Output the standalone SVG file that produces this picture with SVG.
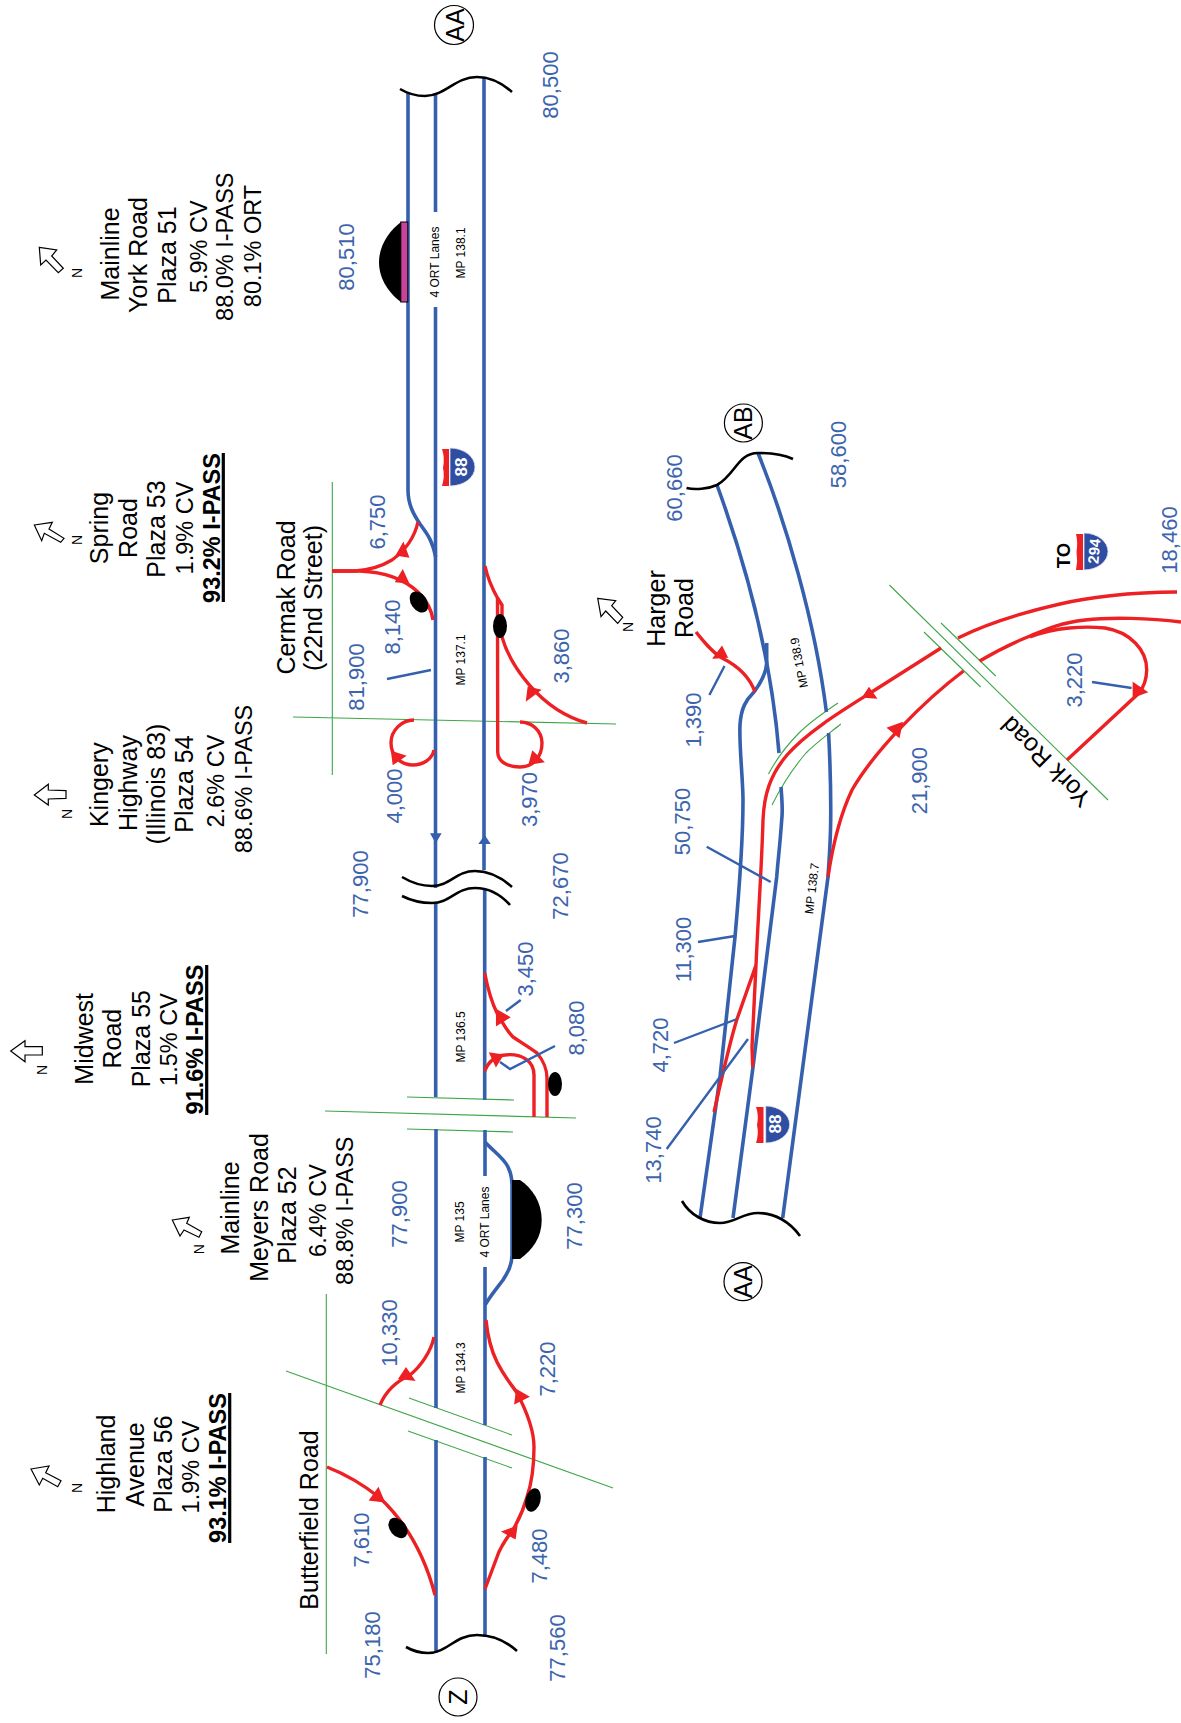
<svg xmlns="http://www.w3.org/2000/svg" width="1181" height="1723" viewBox="0 0 1181 1723">
<style>
text{font-family:"Liberation Sans",Arial,sans-serif;text-anchor:middle}
.n{font-size:22px;fill:#3c64ad}
.k{font-size:25px;fill:#000}
.s{font-size:23.5px;fill:#000}
.b{font-size:23.5px;font-weight:bold;fill:#000}
.to{font-size:18.5px;font-weight:bold;fill:#000}
.m{font-size:12px;fill:#000}
.dir{font-size:14px;fill:#000}
.w{font-weight:bold;fill:#fff}
path,line{fill:none}
.road{stroke:#3560ae;stroke-width:3.6}
.lead{stroke:#3560ae;stroke-width:2.4}
.ramp{stroke:#ed2024;stroke-width:3.4}
.g{stroke:#3fa648;stroke-width:1.1}
.wave{stroke:#000;stroke-width:2.6}
.ul{stroke:#000;stroke-width:3.2}
.arr{fill:#ed2024;stroke:#ed2024;stroke-width:1.5}
.barr{fill:#3560ae;stroke:none}
.north{fill:#fff;stroke:#000;stroke-width:1.2}
.circ{fill:#fff;stroke:#000;stroke-width:1.2}
.blue{fill:#2f4ea2;stroke:#dfe3f3;stroke-width:.8}
.red{fill:#ed2024;stroke:none}
.blk{fill:#000;stroke:none}
</style>

<g id="cross-roads">
<path class="g" d="M332.3,482V775M293,717L616,724M325,1111L576,1118M407,1097L514,1100M407,1129L513,1132M326.3,1294V1654M286,1371L613,1488M409,1398L512,1435M408,1431L512,1468M889.4,585L1108,800M941,623L995.7,676M924,632L980.6,687M838,703C820,715 810,722 799,733C785,747 776,760 768.5,774M840.8,724C830,733 818,741 806,753C794,767 782,785 772,805"/>
</g>

<g id="connectors">
<g id="mainline">
<path class="road" d="M408,93V490C408,505 414,515 420,524C428,535 432,540 435.7,557"/>
<path class="road" d="M435.5,93V212M435.5,307V888M435.7,903V1097M436,1129V1408M436,1440V1653"/>
<path class="road" d="M484,78V870M484.7,890V1100M485,1130V1176M485,1267V1425M485,1457V1637"/>
<path class="road" d="M485,1142C494,1152 504,1158 508,1167C511,1173 512,1178 512,1185V1255C512,1265 508,1272 503,1280C497,1288 491,1295 485,1305"/>
<path class="road" d="M766.7,643V663C766,675 760,684 754,692C746,700 741,708 740,725C739,745 743,780 743,800C743,830 741,870 735,937L720,1077L700,1218"/>
<path class="road" d="M717,485C737,540 770,640 779,753M781,787C782,800 783,810 781.7,820C780,845 778,860 776.7,877L753,1067L733,1218"/>
<path class="road" d="M758,453C785,520 815,620 826.4,712M828.6,733C830,760 831,790 830.7,820C830.5,845 829,860 828,877L782.7,1218"/>
<polygon class="barr" points="430,833.3 441.7,833.3 435.7,843.3"/>
<polygon class="barr" points="478.3,844 490.7,844 484.7,835"/>
</g>
<g id="ramps">
<path class="ramp" d="M418,522C414,540 403,552 392,560C382,566 370,570 355,571L332,571"/>
<path class="ramp" d="M332,571L360,571C385,572 405,580 418,592C428,602 432,612 433,620"/>
<path class="ramp" d="M485,566C488,580 493,590 497.5,598L497.7,752C498,762 508,767 520,767C533,767 542,757 542,743C542,731 532,722 520,722"/>
<path class="ramp" d="M497.5,598L502,605V637C510,665 540,710 587,723"/>
<path class="ramp" d="M434,750C432,760 422,765 413,765C400,765 391,755 391,743C391,730 402,720 414,720"/>
<path class="ramp" d="M484.7,973C488,990 492,1003 497,1013C503,1024 508,1032 513,1037C522,1043 530,1048 537,1053C543,1060 547,1070 547,1078V1117"/>
<path class="ramp" d="M484.7,1071C488,1063 494,1056 505,1055C520,1053 534,1060 534,1075V1117"/>
<path class="ramp" d="M434,1337C431,1352 420,1367 410,1375C395,1382 385,1393 380,1405"/>
<path class="ramp" d="M327,1467C345,1474 365,1486 380,1498C398,1515 422,1545 435,1595"/>
<path class="ramp" d="M486,1320C488,1340 492,1352 497,1362C505,1378 512,1385 517,1393C527,1412 534,1430 534,1447C534,1465 531,1485 527,1497C522,1515 517,1522 513,1530C505,1540 500,1548 497,1557L485,1589"/>
<path class="ramp" d="M1177,592C1130,592 1085,598 1060,604C1025,612 990,622 958,638M941,648L867,695C840,712 806,733 787,755C770,775 764,795 763,820C762,860 758,920 756,965L752,1047L752.7,1067M756,965L736.7,1020C729,1045 723,1073 714,1112"/>
<path class="ramp" d="M1181,622C1150,618 1110,617 1085,620C1060,623 1049,628 1030,636C1010,644 995,652 979.6,661M963.5,671C925,700 875,750 852,790C840,815 832,850 828,877"/>
<path class="ramp" d="M1030,637C1055,627 1085,626 1105,628C1130,632 1147,650 1146.7,670C1146.5,680 1143,688 1139,693L1067,760"/>
<path class="ramp" d="M696,632C704,642 712,652 722,658C738,666 750,678 755,692"/>
<polygon class="arr" points="396.7,555 408.3,556.7 403.3,543.3"/>
<polygon class="arr" points="408.3,582.7 402.7,570.7 396,581.7"/>
<polygon class="arr" points="391.7,751.7 405,756 393.3,764"/>
<polygon class="arr" points="529.3,764 543.3,761.7 532.7,751.7"/>
<polygon class="arr" points="526.7,700 528.3,687.3 540,690"/>
<polygon class="arr" points="496.7,1025 509.3,1017.3 496.7,1010"/>
<polygon class="arr" points="490,1053.3 502.7,1055 496,1066"/>
<polygon class="arr" points="399.3,1378.3 414,1380 406,1368.3"/>
<polygon class="arr" points="370,1500 384,1501.7 378.3,1488.3"/>
<polygon class="arr" points="515,1403.3 528.3,1396.7 516.7,1390"/>
<polygon class="arr" points="502.7,1531.7 516.7,1526.7 515,1538.3"/>
<polygon class="arr" points="713.7,658 727,657 721.9,647"/>
<polygon class="arr" points="863,697 876,698 869,688"/>
<polygon class="arr" points="888,728 902,723 899,737"/>
<polygon class="arr" points="1133.4,683 1146.7,692 1133.4,697"/>
</g>
<g id="leaders">
<path class="lead" d="M387,679L431,670M506,1011L520.7,1000M500,1062L510,1069L555,1046M724.5,666L709.4,695M1092,682L1131.6,688M706.7,846.7L770.7,882M698,942L735,936M674,1043L737,1019M666.7,1149L748,1039"/>
</g>
<g id="breaks">
<path class="wave" d="M400,89C410,95 418,96 425,96C445,96 455,77 477,77C492,77 503,84 512,92"/>
<path class="wave" d="M402,877C412,883 422,886 432,886C450,886 456,871 475,871C490,871 502,878 512,887"/>
<path class="wave" d="M402,896C412,901 422,903 432,903C450,903 456,888 475,888C490,888 501,895 510,905"/>
<path class="wave" d="M406,1647C413,1651 421,1653 428,1653C447,1653 455,1635 477,1635C493,1635 507,1642 517,1651"/>
<path class="wave" d="M686.5,488C695,490 708,489 717,485C735,475 738,453 758,453C770,453 782,454 793,459"/>
<path class="wave" d="M682,1201C690,1215 705,1223 720,1223C735,1223 742,1213 758,1213C775,1213 790,1222 800,1236"/>
</g>
</g>

<g id="plaza-51">
<path class="blk" d="M401,222C390,230 379,245 379,262C379,280 390,294 401,302Z"/>
<rect x="400.8" y="222" width="7" height="80" fill="#c8439a" stroke="#000" stroke-width="1"/>
</g>
<g id="plaza-52">
<path class="blk" d="M512,1180H520C532,1188 541.7,1202 541.7,1220C541.7,1238 532,1250 520,1259H512Z"/>
</g>
<g id="ramp-plazas">
<ellipse cx="419" cy="602" rx="8" ry="11.5" transform="rotate(-35 419 602)"/>
<ellipse cx="500" cy="626" rx="7" ry="12"/>
<ellipse cx="555" cy="1084" rx="7" ry="12"/>
<ellipse cx="398" cy="1528" rx="8" ry="11.5" transform="rotate(-40 398 1528)"/>
<ellipse cx="533" cy="1500" rx="7.5" ry="12" transform="rotate(15 533 1500)"/>
</g>

<g id="shield-88-upper">
<path class="blue" d="M450,448A25,19 0 0 1 450,486Z"/>
<path class="red" d="M442,449H449V486H442Q445,476 443,468Q445,458 442,449Z"/>
<text class="w" font-size="17" transform="translate(466.7,467) rotate(-90)">88</text>
</g>
<g id="shield-88-lower">
<path class="blue" d="M765.7,1106A24,18.5 0 0 1 765.7,1143Z"/>
<path class="red" d="M756,1107H763.5V1143H756Q759,1134 757,1125Q759,1115 756,1107Z"/>
<text class="w" font-size="17" transform="translate(780.7,1124) rotate(-90)">88</text>
</g>
<g id="shield-294">
<path class="blue" d="M1084,533A24,18.5 0 0 1 1084,570Z"/>
<path class="red" d="M1076,534H1083V570H1076Q1078,561 1076.5,552Q1078,542 1076,534Z"/>
<text class="w" font-size="15" transform="translate(1099.4,551.7) rotate(-85)">294</text>
</g>

<g id="match-AA-upper"><circle class="circ" cx="454" cy="25" r="19.5"/><text class="k" transform="translate(464,25) rotate(-90)">AA</text></g>
<g id="match-Z"><circle class="circ" cx="458" cy="1697" r="19"/><text class="k" transform="translate(466.5,1697) rotate(-90)">Z</text></g>
<g id="match-AB"><circle class="circ" cx="743.4" cy="423" r="19"/><text class="k" transform="translate(752,423) rotate(-90)">AB</text></g>
<g id="match-AA-lower"><circle class="circ" cx="743" cy="1281.7" r="19"/><text class="k" transform="translate(752,1281.7) rotate(-90)">AA</text></g>

<g id="plaza-info-51">
<polygon class="north" points="39.3,247.3 56.7,250 51.7,256 63.3,268.3 58.3,272.7 46,260 40.7,265"/>
<text class="dir" transform="translate(82,273) rotate(-90)">N</text>
<text class="k" transform="translate(119,254) rotate(-90)">Mainline</text>
<text class="k" transform="translate(147,255) rotate(-90)">York Road</text>
<text class="k" transform="translate(175.7,255) rotate(-90)">Plaza 51</text>
<text class="s" transform="translate(207,246.7) rotate(-90)">5.9% CV</text>
<text class="s" transform="translate(233,246.7) rotate(-90)">88.0% I-PASS</text>
<text class="s" transform="translate(260.7,246) rotate(-90)">80.1% ORT</text>
</g>
<g id="plaza-info-53">
<polygon class="north" points="34.3,525 52.3,522.3 49,529 64,538.3 60.7,542.3 44.3,533.3 41.7,540.7"/>
<text class="dir" transform="translate(81.7,540) rotate(-90)">N</text>
<text class="k" transform="translate(108,528) rotate(-90)">Spring</text>
<text class="k" transform="translate(136.7,528) rotate(-90)">Road</text>
<text class="k" transform="translate(165,529) rotate(-90)">Plaza 53</text>
<text class="s" transform="translate(193,528) rotate(-90)">1.9% CV</text>
<text class="b" transform="translate(220,528) rotate(-90)">93.2% I-PASS</text>
<line class="ul" x1="223.3" y1="453" x2="223.3" y2="602"/>
</g>
<g id="plaza-info-54">
<polygon class="north" points="34.3,795 48.3,784.3 48.3,790 66,790.7 66,798.3 48.3,799 48.3,805"/>
<text class="dir" transform="translate(71.7,814) rotate(-90)">N</text>
<text class="k" transform="translate(108,784.7) rotate(-90)">Kingery</text>
<text class="k" transform="translate(137,783) rotate(-90)">Highway</text>
<text class="k" transform="translate(165,784) rotate(-90)">(Illinois 83)</text>
<text class="k" transform="translate(193,784) rotate(-90)">Plaza 54</text>
<text class="s" transform="translate(224,781) rotate(-90)">2.6% CV</text>
<text class="s" transform="translate(251.7,779) rotate(-90)">88.6% I-PASS</text>
</g>
<g id="plaza-info-55">
<polygon class="north" points="10.7,1051 25,1040.7 25,1046.7 42.3,1046.7 42.3,1055 25,1055 25,1061.7"/>
<text class="dir" transform="translate(46.7,1070) rotate(-90)">N</text>
<text class="k" transform="translate(92.7,1038.8) rotate(-90)">Midwest</text>
<text class="k" transform="translate(120.7,1038.7) rotate(-90)">Road</text>
<text class="k" transform="translate(150,1038.7) rotate(-90)">Plaza 55</text>
<text class="s" transform="translate(176.7,1039.5) rotate(-90)">1.5% CV</text>
<text class="b" transform="translate(202.5,1039.5) rotate(-90)">91.6% I-PASS</text>
<line class="ul" x1="206.7" y1="965" x2="206.7" y2="1115"/>
</g>
<g id="plaza-info-52">
<polygon class="north" points="172.3,1220 189.3,1217.3 186.7,1223.3 201.7,1231.7 199,1237.3 184,1230 180,1236"/>
<text class="dir" transform="translate(204,1249.3) rotate(-90)">N</text>
<text class="k" transform="translate(239.3,1208) rotate(-90)">Mainline</text>
<text class="k" transform="translate(268,1207.5) rotate(-90)">Meyers Road</text>
<text class="k" transform="translate(296,1215) rotate(-90)">Plaza 52</text>
<text class="s" transform="translate(325.7,1210.5) rotate(-90)">6.4% CV</text>
<text class="s" transform="translate(353,1210.7) rotate(-90)">88.8% I-PASS</text>
</g>
<g id="plaza-info-56">
<polygon class="north" points="31,1469 49,1466 45.7,1472.7 61,1480.7 57.7,1486.7 42.7,1478.3 39.3,1485"/>
<text class="dir" transform="translate(82.3,1488) rotate(-90)">N</text>
<text class="k" transform="translate(115,1464) rotate(-90)">Highland</text>
<text class="k" transform="translate(144,1464.5) rotate(-90)">Avenue</text>
<text class="k" transform="translate(172,1464) rotate(-90)">Plaza 56</text>
<text class="s" transform="translate(199,1467) rotate(-90)">1.9% CV</text>
<text class="b" transform="translate(226,1468) rotate(-90)">93.1% I-PASS</text>
<line class="ul" x1="229.7" y1="1393" x2="229.7" y2="1543"/>
</g>

<g id="north-harger">
<polygon class="north" points="597.7,598.3 615.7,600.7 611.7,605.7 622.7,617.3 617.7,623.3 605.7,611 601,616.7"/>
<text class="dir" transform="translate(633.3,627) rotate(-90)">N</text>
</g>

<g id="road-names">
<text class="k" transform="translate(295,597.5) rotate(-90)">Cermak Road</text>
<text class="k" transform="translate(322,598) rotate(-90)">(22nd Street)</text>
<text class="k" transform="translate(318,1520) rotate(-90)">Butterfield Road</text>
<text class="k" transform="translate(664.7,608.5) rotate(-90)">Harger</text>
<text class="k" transform="translate(693,608) rotate(-90)">Road</text>
<text class="k" transform="translate(1052,755.7) rotate(-135)">York Road</text>
<text class="to" transform="translate(1070,555.5) rotate(-90)">TO</text>
</g>

<g id="milepost-labels">
<text class="m" transform="translate(439,262) rotate(-90)">4 ORT Lanes</text>
<text class="m" transform="translate(465,253) rotate(-90)">MP 138.1</text>
<text class="m" transform="translate(465,660) rotate(-90)">MP 137.1</text>
<text class="m" transform="translate(464.5,1037) rotate(-90)">MP 136.5</text>
<text class="m" transform="translate(464,1222) rotate(-90)">MP 135</text>
<text class="m" transform="translate(489,1222) rotate(-90)">4 ORT Lanes</text>
<text class="m" transform="translate(465,1368) rotate(-90)">MP 134.3</text>
<text class="m" transform="translate(803,662) rotate(-101)">MP 138.9</text>
<text class="m" transform="translate(816,889) rotate(-83)">MP 138.7</text>
</g>

<g id="volume-labels">
<text class="n" transform="translate(558,85) rotate(-90)">80,500</text>
<text class="n" transform="translate(354,257) rotate(-90)">80,510</text>
<text class="n" transform="translate(385,522) rotate(-90)">6,750</text>
<text class="n" transform="translate(364,677) rotate(-90)">81,900</text>
<text class="n" transform="translate(400,627) rotate(-90)">8,140</text>
<text class="n" transform="translate(402,796) rotate(-90)">4,000</text>
<text class="n" transform="translate(537,799.5) rotate(-90)">3,970</text>
<text class="n" transform="translate(569,656) rotate(-90)">3,860</text>
<text class="n" transform="translate(368,884) rotate(-90)">77,900</text>
<text class="n" transform="translate(568,886) rotate(-90)">72,670</text>
<text class="n" transform="translate(533,969) rotate(-90)">3,450</text>
<text class="n" transform="translate(584,1028) rotate(-90)">8,080</text>
<text class="n" transform="translate(407,1214) rotate(-90)">77,900</text>
<text class="n" transform="translate(582,1216) rotate(-90)">77,300</text>
<text class="n" transform="translate(397,1333) rotate(-90)">10,330</text>
<text class="n" transform="translate(555,1369) rotate(-90)">7,220</text>
<text class="n" transform="translate(369,1540) rotate(-90)">7,610</text>
<text class="n" transform="translate(547,1556) rotate(-90)">7,480</text>
<text class="n" transform="translate(380,1645) rotate(-90)">75,180</text>
<text class="n" transform="translate(565,1648) rotate(-90)">77,560</text>
<text class="n" transform="translate(681.5,488) rotate(-90)">60,660</text>
<text class="n" transform="translate(846,454.5) rotate(-90)">58,600</text>
<text class="n" transform="translate(700.5,720) rotate(-90)">1,390</text>
<text class="n" transform="translate(1081.5,680) rotate(-90)">3,220</text>
<text class="n" transform="translate(927,780.7) rotate(-90)">21,900</text>
<text class="n" transform="translate(1176.5,540) rotate(-90)">18,460</text>
<text class="n" transform="translate(690,821.5) rotate(-90)">50,750</text>
<text class="n" transform="translate(690.7,949.5) rotate(-90)">11,300</text>
<text class="n" transform="translate(668,1045) rotate(-90)">4,720</text>
<text class="n" transform="translate(660.7,1150) rotate(-90)">13,740</text>
</g>
</svg>
